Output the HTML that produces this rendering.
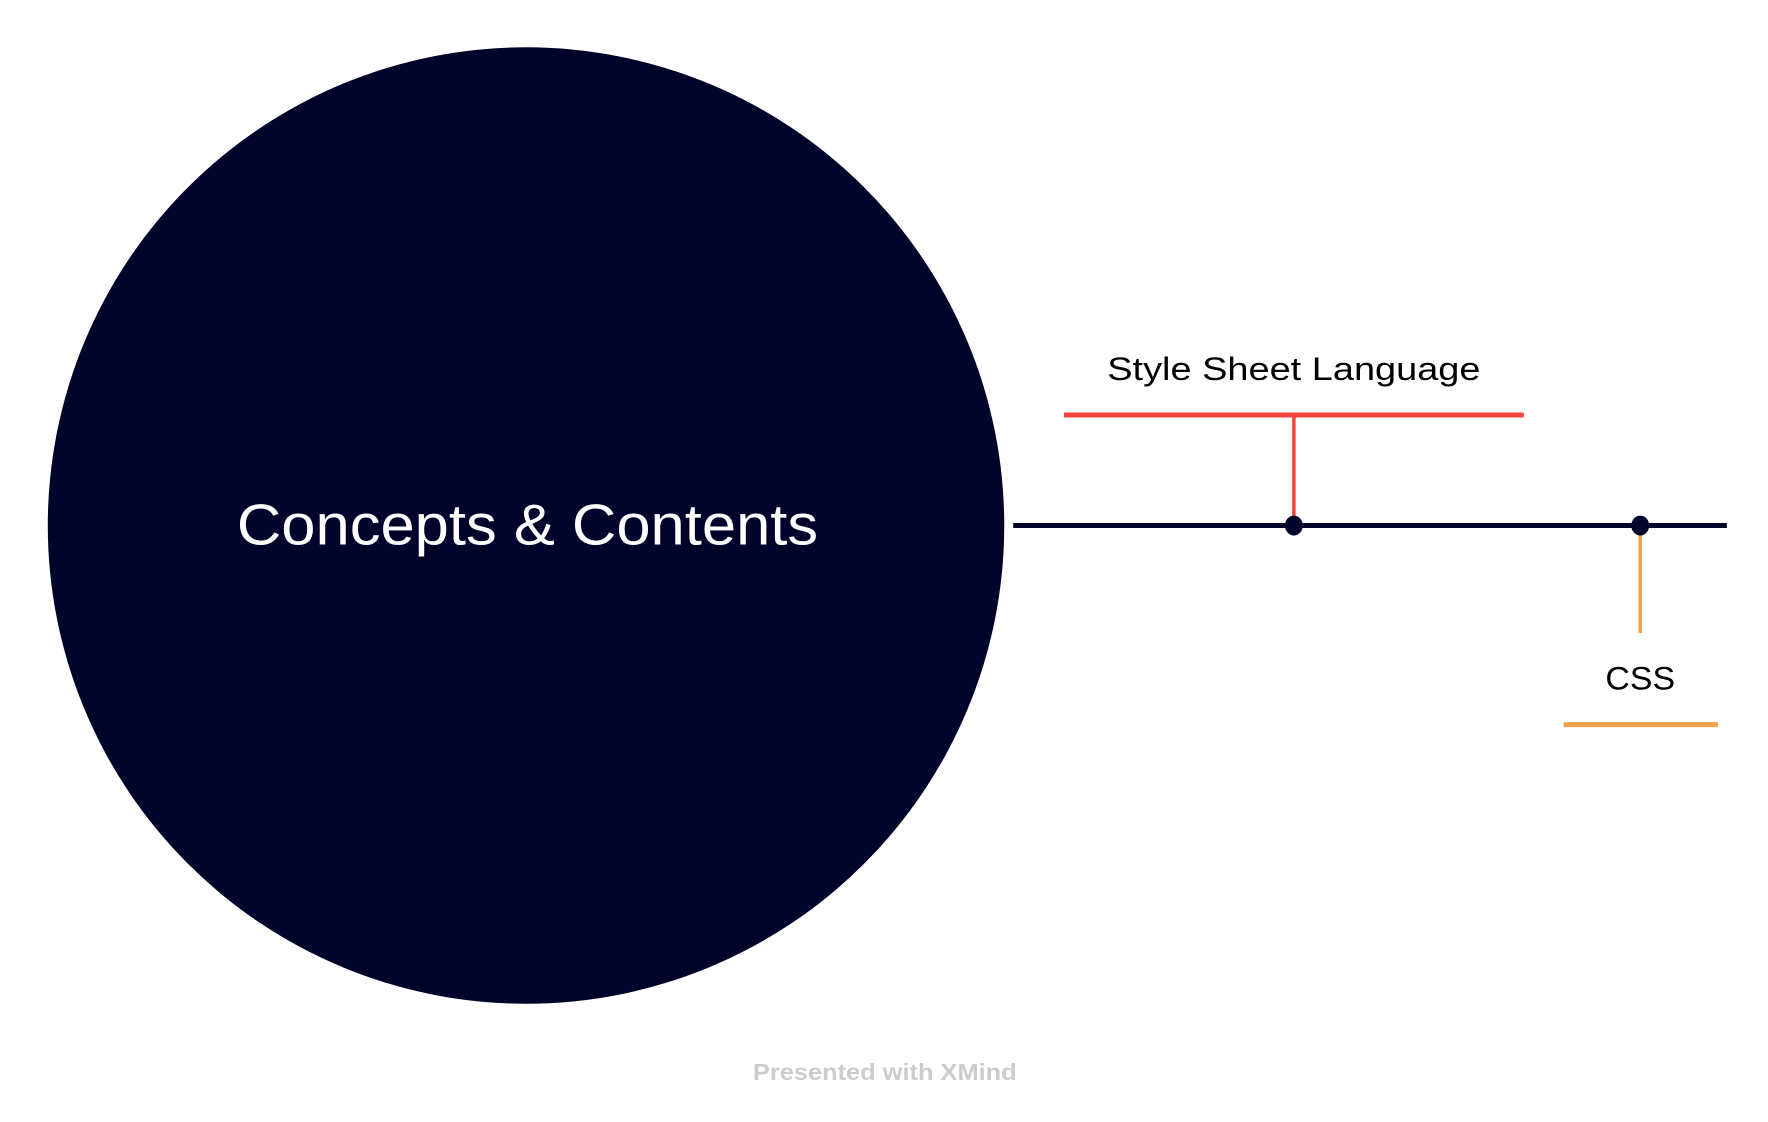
<!DOCTYPE html>
<html><head><meta charset="utf-8"><style>
html,body{margin:0;padding:0;background:#fff;}
svg{display:block;}
text{font-family:"Liberation Sans",sans-serif;}
</style></head><body>
<svg width="1768" height="1122" viewBox="0 0 1768 1122" xmlns="http://www.w3.org/2000/svg">
<rect width="1768" height="1122" fill="#fff"/>
<g transform="scale(0.9953)">
<circle cx="528.5" cy="528" r="480.5" fill="#00042a"/>
<text x="530" y="547" fill="#fff" font-size="58" text-anchor="middle" textLength="584" lengthAdjust="spacingAndGlyphs">Concepts &amp; Contents</text>
<line x1="1018" y1="528" x2="1735" y2="528" stroke="#00042a" stroke-width="5"/>
<line x1="1069" y1="417" x2="1531" y2="417" stroke="#f7433e" stroke-width="5"/>
<line x1="1300" y1="417" x2="1300" y2="528" stroke="#f7433e" stroke-width="3.5"/>
<line x1="1648" y1="528" x2="1648" y2="636" stroke="#f5a04a" stroke-width="3.5"/>
<line x1="1571" y1="728" x2="1726" y2="728" stroke="#f5a04a" stroke-width="5"/>
<ellipse cx="1300" cy="528" rx="9" ry="10" fill="#00042a"/>
<ellipse cx="1648" cy="528" rx="9" ry="10" fill="#00042a"/>
<text x="1300" y="382" fill="#000" font-size="33" text-anchor="middle" textLength="375" lengthAdjust="spacingAndGlyphs">Style Sheet Language</text>
<text x="1648" y="693" fill="#000" font-size="33" text-anchor="middle" textLength="70" lengthAdjust="spacingAndGlyphs">CSS</text>
<text x="889" y="1085" fill="#cccccc" font-size="23" font-weight="bold" text-anchor="middle" textLength="265" lengthAdjust="spacingAndGlyphs">Presented with XMind</text>
</g>
</svg>
</body></html>
